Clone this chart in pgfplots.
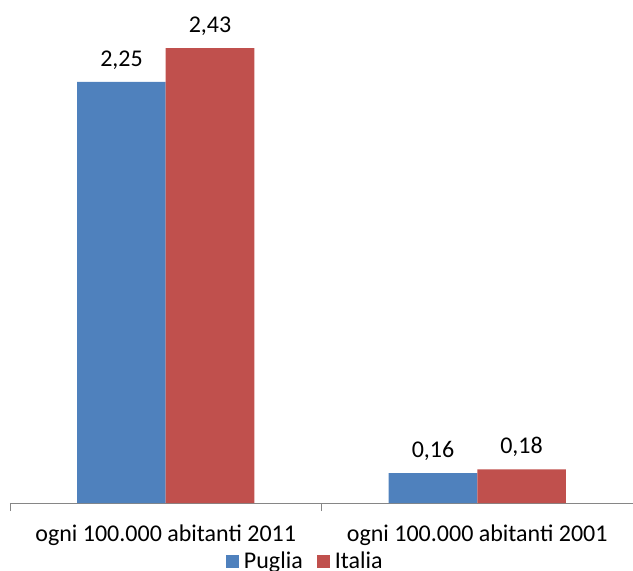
\documentclass[border=0pt]{standalone}
\usepackage{fontspec}
\setmainfont{Carlito}
\usepackage{pgfplots}
\pgfplotsset{compat=1.18}
\definecolor{pugliablue}{HTML}{4F81BD}
\definecolor{italiared}{HTML}{C0504D}
\definecolor{axisgray}{HTML}{868686}
\begin{document}
\begin{tikzpicture}
\path[use as bounding box] (-10pt,-68pt) rectangle (623pt,503pt);
\begin{axis}[
  scale only axis, width=623pt, height=503pt,
  xmin=-0.5, xmax=1.5, ymin=0, ymax=2.687,
  clip=false,
  hide y axis,
  axis x line*=bottom,
  axis line style={axisgray, line width=0.8pt},
  ybar=0pt, bar width=88.5pt,
  xtick={0,1},
  xticklabels={ogni 100.000 abitanti 2011, ogni 100.000 abitanti 2001},
  major tick length=0pt,
  minor xtick={-0.5,0.5,1.5},
  minor tick length=8pt,
  tick align=outside,
  xtick pos=bottom,
  minor tick style={axisgray, line width=0.8pt},
  xticklabel style={font=\fontsize{24}{28}\selectfont, anchor=center, yshift=-32pt},
  /pgf/number format/assume math mode=true,
  nodes near coords={\pgfmathprintnumber[fixed,precision=2,use comma,fixed zerofill]{\pgfplotspointmeta}},
  every node near coord/.append style={font=\fontsize{24}{28}\selectfont, anchor=center, yshift=22pt},
  legend columns=2,
  legend style={draw=none, fill=none, at={(0.474,-0.115)}, anchor=center,
    font=\fontsize{24}{28}\selectfont,
    /tikz/every odd column/.append style={column sep=3pt},
    /tikz/every even column/.append style={column sep=12pt}},
  legend image code/.code={\fill[#1] (0pt,-7pt) rectangle (13pt,6pt);},
]
\addplot[fill=pugliablue, draw=none] coordinates {(0,2.25) (1,0.16)};
\addplot[fill=italiared, draw=none] coordinates {(0,2.43) (1,0.18)};
\legend{Puglia, Italia}
\end{axis}
\end{tikzpicture}
\end{document}
